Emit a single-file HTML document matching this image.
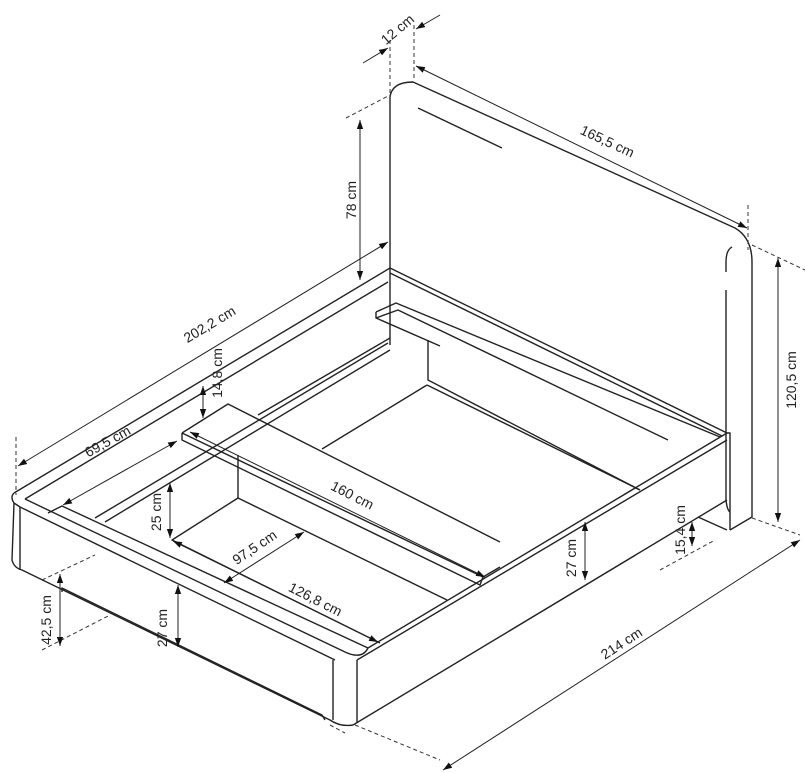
<!DOCTYPE html>
<html><head><meta charset="utf-8"><style>
html,body{margin:0;padding:0;background:#fff}
svg{display:block}
text{font-family:"Liberation Sans",sans-serif;font-size:14px;fill:#222}
</style></head><body>
<svg width="805" height="773" viewBox="0 0 805 773" xmlns="http://www.w3.org/2000/svg">
<defs>
<marker id="a" viewBox="0 0 10 10" refX="10" refY="5" markerWidth="9" markerHeight="9" orient="auto-start-reverse" markerUnits="userSpaceOnUse"><path d="M0,1.5 L10,5 L0,8.5z" fill="#111"/></marker>
</defs>
<g fill="none" stroke="#222" stroke-width="1.4" stroke-linejoin="round">
<path d="M390,268 L390,97 Q392,82 413,82 L735,228 Q752,238 752,262 L752,517 L730,530"/>
<path d="M418,108 L502,148"/>
<path d="M732,247 Q726,250 726,262 L726,272 M726,290 L726,500 Q727,510 730,512"/>
<path d="M727,433 L730,433 L730,530"/>
<path d="M390,268 L727,433"/>
<path d="M390,273 L722,436"/>
<path d="M390,268 L390,345"/>
<path d="M376,312 L396,303 L720,437 M376,312 L376,318 L398,310 L668,440 M376,318 L440,346"/>
<path d="M428,340 L428,380 L640,490"/>
<path d="M14,493 L390,268"/>
<path d="M25,499 L388,282"/>
<path d="M95,518 L388,343 M105,522 L390,350"/>
<path d="M258,415 L390,338"/>
<path d="M14,493 Q10,497 14,503 L20,507 L335,660"/>
<path d="M25,499 L345,652 Q362,660 368,648"/>
<path d="M48,513 L62,506 L368,648"/>
<path d="M14,503 L12,560 Q14,568 22,570 L330,720 Q340,727 353,725"/>
<path d="M20,507 L20,570"/>
<path d="M333,660 L333,720"/>
<path d="M62,592 L62,588 L322,715 L325,720"/>
<path d="M357,660 L357,723"/>
<path d="M368,648 L727,433"/>
<path d="M357,660 L727,440"/>
<path d="M353,725 L727,500"/>
<path d="M698,517 L727,530"/>
<path d="M182,433 L228,404 L500,542 M182,433 L483,577 M182,433 L182,440 L480,585 L483,577 L500,567"/>
<path d="M238,455 L238,498 L447,600"/>
<path d="M238,498 L172,540 L380,643"/>
<path d="M427,385 L322,449 M427,385 L640,490"/>
</g>
<g fill="none" stroke="#333" stroke-width="1" stroke-dasharray="4,3">
<path d="M390,40 L390,95 M414,25 L414,80"/>
<path d="M346,118 L390,95"/>
<path d="M748,205 L748,250 M752,245 L805,270 M752,518 L800,535"/>
<path d="M16,437 L16,495"/>
<path d="M42,580 L95,555 M42,650 L110,615"/>
<path d="M660,570 L715,540"/>
<path d="M330,725 L345,733 M355,725 L440,760"/>
</g>
<g stroke="#222" stroke-width="1" fill="none">
<line x1="363" y1="63" x2="388" y2="48" marker-end="url(#a)"/>
<line x1="440" y1="15" x2="416" y2="29" marker-end="url(#a)"/>
<line x1="416" y1="66" x2="747" y2="228" marker-start="url(#a)" marker-end="url(#a)"/>
<line x1="360" y1="120" x2="360" y2="280" marker-start="url(#a)" marker-end="url(#a)"/>
<line x1="778" y1="258" x2="778" y2="522" marker-start="url(#a)" marker-end="url(#a)"/>
<line x1="18" y1="466" x2="388" y2="242" marker-start="url(#a)" marker-end="url(#a)"/>
<line x1="203" y1="386" x2="203" y2="418" marker-start="url(#a)" marker-end="url(#a)"/>
<line x1="63" y1="505" x2="177" y2="441" marker-start="url(#a)" marker-end="url(#a)"/>
<line x1="170" y1="483" x2="170" y2="538" marker-start="url(#a)" marker-end="url(#a)"/>
<line x1="190" y1="432" x2="485" y2="577" marker-start="url(#a)" marker-end="url(#a)"/>
<line x1="173" y1="541" x2="378" y2="642" marker-start="url(#a)" marker-end="url(#a)"/>
<line x1="224" y1="583" x2="304" y2="532" marker-start="url(#a)" marker-end="url(#a)"/>
<line x1="60" y1="574" x2="60" y2="646" marker-start="url(#a)" marker-end="url(#a)"/>
<line x1="178" y1="585" x2="178" y2="647" marker-start="url(#a)" marker-end="url(#a)"/>
<line x1="585" y1="522" x2="585" y2="580" marker-start="url(#a)" marker-end="url(#a)"/>
<line x1="692" y1="522" x2="692" y2="546" marker-start="url(#a)" marker-end="url(#a)"/>
<line x1="443" y1="770" x2="800" y2="540" marker-start="url(#a)" marker-end="url(#a)"/>
</g>
<text x="398" y="34" text-anchor="middle" transform="rotate(-40 398 30)">12 cm</text>
<text x="607" y="146" text-anchor="middle" transform="rotate(25 607 142)">165,5 cm</text>
<text x="352" y="204" text-anchor="middle" transform="rotate(-90 352 200)">78 cm</text>
<text x="792" y="384" text-anchor="middle" transform="rotate(-90 792 380)">120,5 cm</text>
<text x="210" y="329" text-anchor="middle" transform="rotate(-31 210 325)">202,2 cm</text>
<text x="218" y="377" text-anchor="middle" transform="rotate(-90 218 373)">14,8 cm</text>
<text x="108" y="446" text-anchor="middle" transform="rotate(-29 108 442)">69,5 cm</text>
<text x="157" y="516" text-anchor="middle" transform="rotate(-90 157 512)">25 cm</text>
<text x="352" y="500" text-anchor="middle" transform="rotate(27 352 496)">160 cm</text>
<text x="255" y="552" text-anchor="middle" transform="rotate(-34 255 548)">97,5 cm</text>
<text x="315" y="604" text-anchor="middle" transform="rotate(27 315 600)">126,8 cm</text>
<text x="47" y="624" text-anchor="middle" transform="rotate(-90 47 620)">42,5 cm</text>
<text x="163" y="632" text-anchor="middle" transform="rotate(-90 163 628)">27 cm</text>
<text x="572" y="562" text-anchor="middle" transform="rotate(-90 572 558)">27 cm</text>
<text x="681" y="534" text-anchor="middle" transform="rotate(-90 681 530)">15,4 cm</text>
<text x="622" y="648" text-anchor="middle" transform="rotate(-33 622 644)">214 cm</text>
</svg>
</body></html>
